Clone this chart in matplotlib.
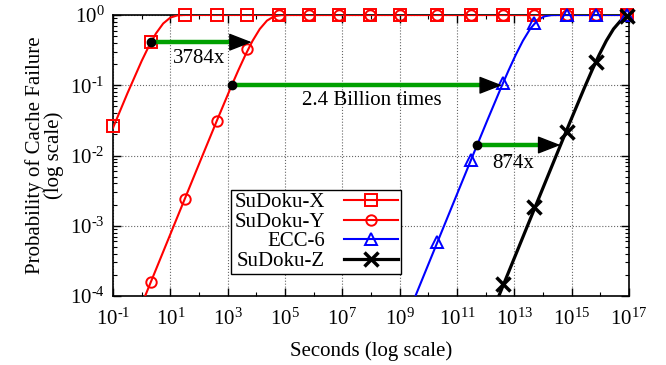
import numpy as np
import matplotlib
matplotlib.use("Agg")
import matplotlib.pyplot as plt
from matplotlib.lines import Line2D
from matplotlib.ticker import FixedLocator, FuncFormatter, NullFormatter

plt.rcParams['font.family'] = ['Liberation Serif', 'DejaVu Serif']
plt.rcParams['mathtext.fontset'] = 'custom'
plt.rcParams['mathtext.rm'] = 'Liberation Serif'
plt.rcParams['mathtext.default'] = 'regular'
plt.rcParams['axes.unicode_minus'] = False

# marker positions (log10 of seconds), shared by all series
mark_exp = [-1.0, 0.325, 1.51, 2.63, 3.67, 4.79, 5.84, 6.88, 7.96, 9.01,
            10.30, 11.49, 12.60, 13.68, 14.84, 15.85, 16.93]

sudoku_x_p = [0.026, 0.41, 1, 1, 1, 1, 1, 1, 1, 1, 1, 1, 1, 1, 1, 1, 1]
sudoku_y_p = [1.6e-4, 2.4e-3, 0.031, 0.33, 1, 1, 1, 1, 1, 1, 1, 1, 1, 1, 1, 1]
ecc6_p = [5.9e-4, 8.7e-3, 0.107, 0.76, 1, 1, 1]
sudoku_z_p = [1.5e-4, 1.86e-3, 0.0214, 0.215, 0.96]

# curve points (log10 seconds, probability)
x_line_exp = [-1.0, -0.5, 0.0, 0.25, 0.5, 0.75, 1.0, 1.25, 1.5, 2.0, 17.0]
x_line_p = [0.0248, 0.0764, 0.222, 0.360, 0.548, 0.757, 0.919, 0.9885, 0.9997, 1.0, 1.0]

y_line_exp = [0.12, 1.12, 2.12, 2.62, 3.12, 3.37, 3.62, 3.87, 4.12, 4.37, 4.62, 4.87, 5.12, 17.0]
y_line_p = [1e-4, 9.995e-4, 0.00995, 0.0311, 0.0952, 0.1629, 0.2711, 0.4301,
            0.6321, 0.831, 0.9577, 0.9964, 0.99995, 1.0]

ecc_line_exp = [9.55, 10.55, 11.55, 12.05, 12.55, 12.80, 13.05, 13.30, 13.55, 13.80, 14.05, 14.30, 14.55, 17.0]
ecc_line_p = [1e-4, 9.995e-4, 0.00995, 0.0311, 0.0952, 0.1629, 0.2711, 0.4301,
              0.6321, 0.831, 0.9577, 0.9964, 0.99995, 1.0]

z_line_exp = [12.46, 13.46, 14.46, 14.96, 15.46, 15.71, 15.96, 16.21, 16.46, 16.71, 16.96, 17.0]
z_line_p = [1e-4, 9.995e-4, 0.00995, 0.0311, 0.0952, 0.1629, 0.2711, 0.4301,
            0.6321, 0.831, 0.9577, 0.9688]

# improvement arrows
arrow_start_exp = [0.325, 3.14, 11.70]
arrow_end_exp = [3.84, 12.57, 14.61]
arrow_p = [0.41, 0.1, 0.0141]
arrow_labels = ['3784x', '2.4 Billion times', '874x']
label_exp = [2.0, 8.03, 12.95]
label_p = [0.244, 0.0597, 0.0078]


def pow10_label(v, pos):
    e = int(round(np.log10(v)))
    if e < 0:
        return r'$10^{\text{-}%d}$' % (-e)
    return r'$10^{%d}$' % e


fig = plt.figure(figsize=(6.66, 3.65), dpi=100)
ax = fig.add_axes([0.1697, 0.189, 0.7747, 0.7699])
ax.set_xscale('log')
ax.set_yscale('log')
ax.set_xlim(1e-1, 1e17)
ax.set_ylim(1e-4, 1)

series = [
    ('SuDoku-X', 'red', 's', 8, 1.4, 1.5, mark_exp, sudoku_x_p, x_line_exp, x_line_p),
    ('SuDoku-Y', 'red', 'o', 7.5, 1.4, 1.5, mark_exp[1:], sudoku_y_p, y_line_exp, y_line_p),
    ('ECC-6', 'blue', '^', 8, 1.4, 1.5, mark_exp[10:], ecc6_p, ecc_line_exp, ecc_line_p),
    ('SuDoku-Z', 'black', 'x', 10, 2.5, 2.3, mark_exp[12:], sudoku_z_p, z_line_exp, z_line_p),
]

handles = []
for name, col, mk, ms, mew, lw, mx, my, lx, ly in series:
    ax.plot(10 ** np.array(lx), ly, color=col, lw=lw, zorder=3)
    ax.plot(10 ** np.array(mx), my, ls='none', marker=mk, ms=ms, mew=mew,
            mec=col, mfc='none', clip_on=False, zorder=4)
    handles.append(Line2D([], [], color=col, lw=lw, marker=mk, ms=ms, mew=mew,
                          mec=col, mfc='none'))

head_dec = 0.68
for x0, x1, p in zip(arrow_start_exp, arrow_end_exp, arrow_p):
    ax.plot([10 ** x0, 10 ** (x1 - head_dec)], [p, p], color='#00a000', lw=3.2,
            solid_capstyle='butt', zorder=5)
    ax.annotate('', xy=(10 ** x1, p), xytext=(10 ** (x1 - head_dec), p),
                arrowprops=dict(arrowstyle='-|>,head_length=0.72,head_width=0.28',
                                color='black', mutation_scale=20, lw=1,
                                shrinkA=0, shrinkB=0), zorder=6)
    ax.plot(10 ** x0, p, 'o', color='black', ms=6, zorder=7)

for txt, lx, lp in zip(arrow_labels, label_exp, label_p):
    ax.text(10 ** lx, lp, txt, ha='center', va='center', fontsize=15, zorder=8)

# ticks
ax.xaxis.set_major_locator(FixedLocator([10.0 ** e for e in range(-1, 18, 2)]))
ax.xaxis.set_minor_locator(FixedLocator([10.0 ** e for e in range(0, 17, 2)]))
ax.xaxis.set_major_formatter(FuncFormatter(pow10_label))
ax.xaxis.set_minor_formatter(NullFormatter())
ax.yaxis.set_major_locator(FixedLocator([10.0 ** e for e in range(-4, 1)]))
ax.yaxis.set_minor_locator(FixedLocator([m * 10.0 ** e for e in range(-4, 0) for m in range(2, 10)]))
ax.yaxis.set_major_formatter(FuncFormatter(pow10_label))
ax.yaxis.set_minor_formatter(NullFormatter())
ax.tick_params(which='both', direction='in', top=True, right=True, labelsize=15)
ax.tick_params(which='major', length=6, width=1)
ax.tick_params(which='minor', length=3, width=0.8)
ax.tick_params(axis='x', pad=9)
ax.tick_params(axis='y', pad=6)
ax.grid(True, which='major', ls=':', color='0.4', lw=0.8)
for s in ax.spines.values():
    s.set_linewidth(1.2)

ax.set_xlabel('Seconds (log scale)', fontsize=15, labelpad=8)
ax.set_ylabel('Probability of Cache Failure\n(log scale)', fontsize=15, linespacing=0.95, labelpad=4)

leg = ax.legend(handles, ['SuDoku-X', 'SuDoku-Y', 'ECC-6', 'SuDoku-Z'],
                loc='lower left', bbox_to_anchor=(0.229, 0.078), markerfirst=False,
                fontsize=15, handlelength=2.6, labelspacing=0.0, borderpad=0.15,
                handletextpad=0.9, borderaxespad=0, fancybox=False, framealpha=1,
                edgecolor='black')
leg.get_frame().set_linewidth(1.0)
leg.set_zorder(10)

fig.savefig('out.png', dpi=100)
